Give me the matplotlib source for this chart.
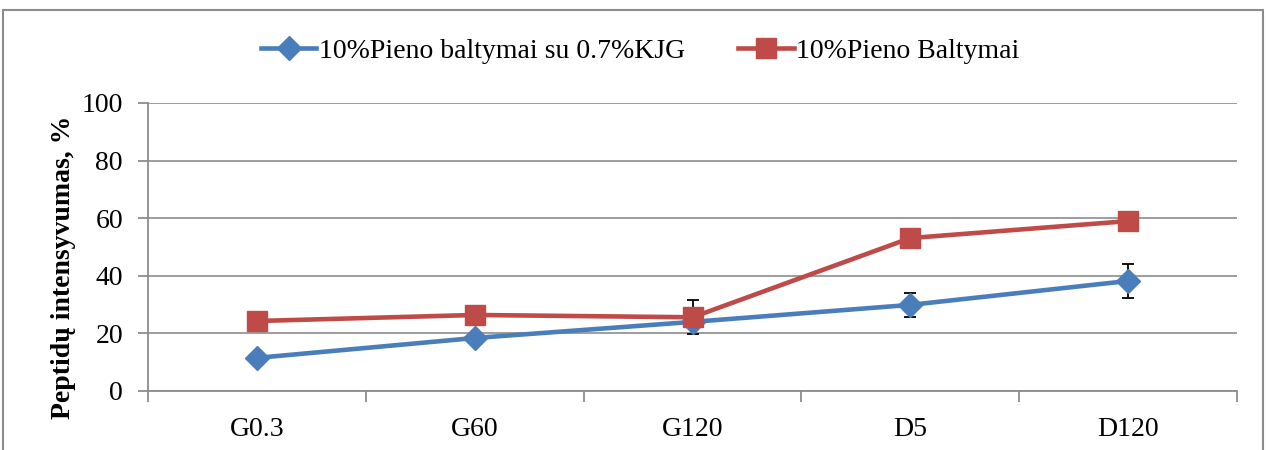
import matplotlib
matplotlib.use("Agg")
import matplotlib.pyplot as plt
from matplotlib.patches import Rectangle
from matplotlib.ticker import FixedLocator

categories = ["G0.3", "G60", "G120", "D5", "D120"]
kjg_values = [11.5, 18.4, 24.0, 29.9, 38.2]
kjg_errors = [0.0, 0.0, 0.0, 4.1, 5.8]
milk_values = [24.3, 26.4, 25.6, 53.1, 59.0]
milk_errors = [0.0, 0.0, 5.9, 0.0, 0.0]
series_labels = ["10%Pieno baltymai su 0.7%KJG", "10%Pieno Baltymai"]
y_label = "Peptidų intensyvumas, %"
y_ticks = [0, 20, 40, 60, 80, 100]

plt.rcParams["font.family"] = ["Liberation Serif", "DejaVu Serif"]

fig = plt.figure(figsize=(12.68, 4.5), dpi=100)
ax = fig.add_axes([148 / 1268, 59 / 450, 1089 / 1268, 288 / 450])

# outer chart frame
fig.patches.append(Rectangle((3 / 1268, -0.05), 1260 / 1268, 0.05 + 440 / 450,
                             transform=fig.transFigure, fill=False,
                             edgecolor="#8c8c8c", linewidth=1.5))

x = list(range(len(categories)))
blue = "#4A7EBB"
red = "#BE4B48"

ax.errorbar(x, kjg_values, yerr=kjg_errors, fmt="none",
            ecolor="black", elinewidth=1.3, capsize=4, capthick=1.3, zorder=2)
ax.errorbar(x, milk_values, yerr=milk_errors, fmt="none",
            ecolor="black", elinewidth=1.3, capsize=4, capthick=1.3, zorder=2)
ax.plot(x, kjg_values, color=blue, linewidth=3.3, marker="D", markersize=12,
        label=series_labels[0], zorder=3)
ax.plot(x, milk_values, color=red, linewidth=3.3, marker="s", markersize=14,
        label=series_labels[1], zorder=3)

ax.set_xlim(-0.5, len(categories) - 0.5)
ax.set_ylim(0, 100)
ax.set_yticks(y_ticks)
ax.set_xticks(x)
ax.set_xticklabels(categories, fontsize=20)
ax.xaxis.set_minor_locator(FixedLocator([i - 0.5 for i in range(len(categories) + 1)]))
ax.tick_params(axis="x", which="major", length=0, pad=19)
ax.tick_params(axis="x", which="minor", length=8, width=1.3, color="#8c8c8c", direction="out")
ax.tick_params(axis="y", length=7, width=1.3, color="#8c8c8c", labelsize=20, pad=11)
ax.grid(axis="y", color="#8c8c8c", linewidth=1.2)
ax.set_axisbelow(True)
for side in ("top", "right"):
    ax.spines[side].set_visible(False)
for side in ("left", "bottom"):
    ax.spines[side].set_color("#8c8c8c")
    ax.spines[side].set_linewidth(1.3)

ax.set_ylabel(y_label, fontsize=20, fontweight="bold")
ax.yaxis.set_label_coords(-72 / 1089, 0.43)

fig.legend(loc="center", bbox_to_anchor=(0.505, 1 - 51 / 450), ncol=2, frameon=False,
           fontsize=20, handlelength=2.0, columnspacing=1.9, handletextpad=0.1)

fig.savefig("out.png", dpi=100)
